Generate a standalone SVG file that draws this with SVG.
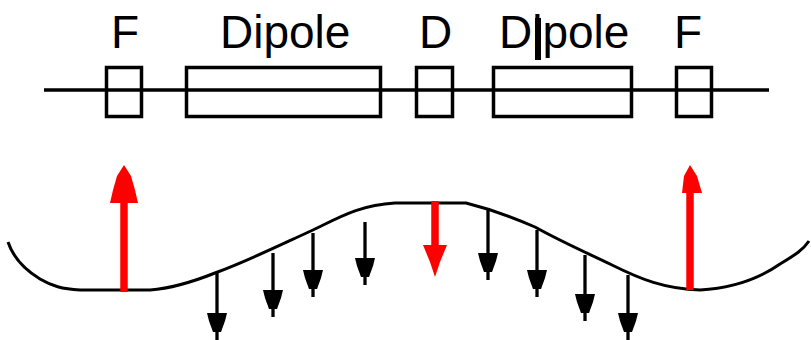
<svg xmlns="http://www.w3.org/2000/svg" width="811" height="340" viewBox="0 0 811 340">
<style>
.box{fill:none;stroke:#000;stroke-width:3.5}
.lbl{font-family:"Liberation Sans",Arial,sans-serif;font-size:46px;fill:#000}
.beam{stroke:#000;stroke-width:3.5}
.orbit{fill:none;stroke:#000;stroke-width:3}
.kick{stroke:#000;stroke-width:3.3}
.red{stroke:#f00;stroke-width:7.5}
.redhead{fill:#f00}
</style>
<defs>
<marker id="hd" markerUnits="userSpaceOnUse" viewBox="0 0 27 20" markerWidth="27" markerHeight="20" refX="27" refY="10" orient="auto">
<path d="M0,0 L8,2 L19,6 L19,14 L8,18 L0,20 z" fill="#000"/>
</marker>
</defs>
<line class="beam" x1="44" y1="90" x2="769" y2="90"/>
<g id="F1"><rect class="box" x="106.5" y="67.5" width="35" height="49"/><text class="lbl" x="111" y="48">F</text></g>
<g id="Dipole1"><rect class="box" x="186.5" y="67.5" width="194" height="49"/><text class="lbl" x="220" y="48">Dipole</text></g>
<g id="D"><rect class="box" x="416.5" y="67.5" width="36" height="49"/><text class="lbl" x="419" y="48">D</text></g>
<g id="Dipole2"><rect class="box" x="493.5" y="67.5" width="138" height="49"/><text class="lbl" x="499" y="48">Dipole</text><line x1="538" y1="18" x2="538" y2="60" stroke="#000" stroke-width="6"/></g>
<g id="F2"><rect class="box" x="676.5" y="67.5" width="35" height="49"/><text class="lbl" x="674" y="48">F</text></g>
<g id="orbit">
<path class="orbit" d="M8,242 C12,254 22,268 40,279 C52,286 62,289 80,290 L150,290 C175,288 195,281 215,273 C250,260 280,245 313,230 C340,217 360,205 395,203 L466,203 C490,209 510,216 535,227 C560,241 585,252 612,265 C640,279 665,289 700,290 C735,288 760,278 780,264 C795,255 803,250 809,241"/>
</g>
<g id="connectors">
<line class="red" x1="124" y1="292" x2="124" y2="200"/>
<polygon class="redhead" points="124,165 131,176 135,190 138,203 110,203 113,190 117,176"/>
<line class="red" x1="690" y1="290" x2="690" y2="190"/>
<polygon class="redhead" points="690,165 697,176 702,193 682,193 684,176"/>
<line class="red" x1="435" y1="201" x2="435" y2="250"/>
<polygon class="redhead" points="423,245 447,245 440,262 435,277 430,262"/>
<line class="kick" x1="217" y1="273" x2="217" y2="340" marker-end="url(#hd)"/>
<line class="kick" x1="273" y1="253" x2="273" y2="317" marker-end="url(#hd)"/>
<line class="kick" x1="313" y1="233" x2="313" y2="297" marker-end="url(#hd)"/>
<line class="kick" x1="365" y1="222" x2="365" y2="285" marker-end="url(#hd)"/>
<line class="kick" x1="488" y1="209" x2="488" y2="280" marker-end="url(#hd)"/>
<line class="kick" x1="537" y1="230" x2="537" y2="297" marker-end="url(#hd)"/>
<line class="kick" x1="585" y1="255" x2="585" y2="321" marker-end="url(#hd)"/>
<line class="kick" x1="628" y1="275" x2="628" y2="340" marker-end="url(#hd)"/>
</g>
</svg>
